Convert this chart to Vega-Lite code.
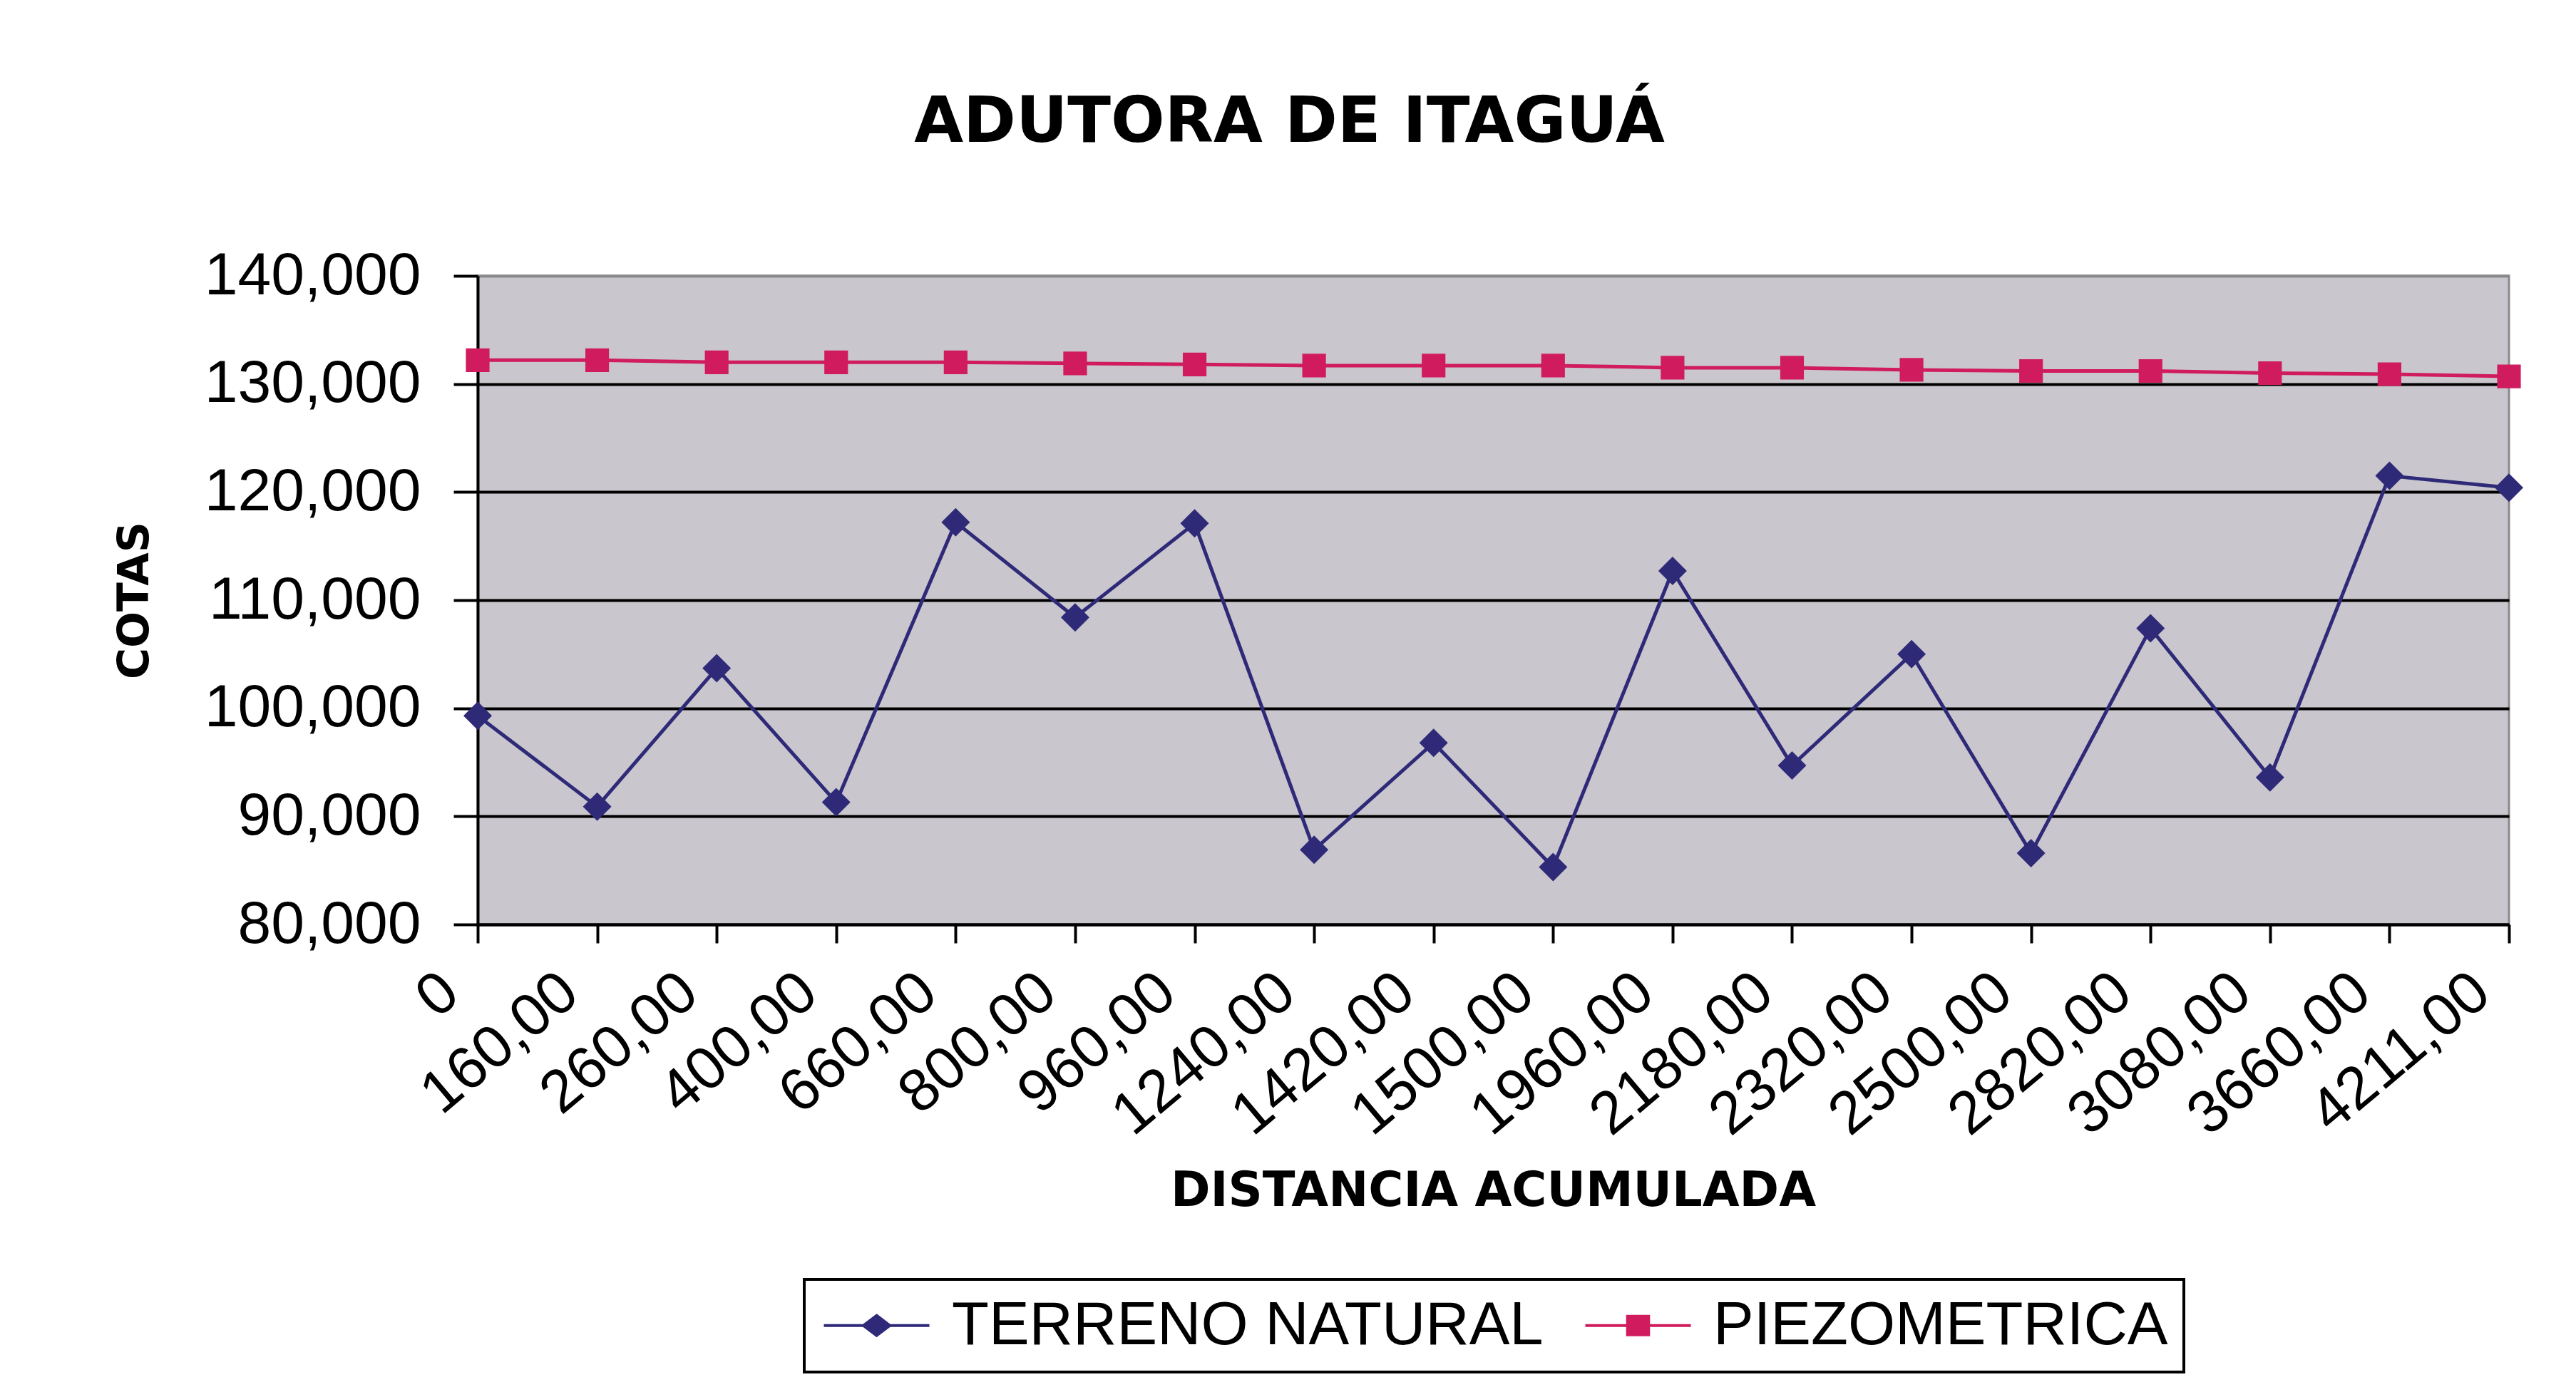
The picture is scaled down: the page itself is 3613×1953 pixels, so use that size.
{
  "$schema": "https://vega.github.io/schema/vega-lite/v6.json",
  "autosize": {"type": "none"},
  "width": 2849,
  "height": 910,
  "padding": {"left": 670, "top": 387, "right": 94, "bottom": 656},
  "background": "white",
  "config": {
    "view": {"fill": "#c9c6cd", "stroke": "#8a8a8a", "strokeWidth": 3},
    "font": "Liberation Sans"
  },
  "title": {
    "text": "ADUTORA DE ITAGUÁ",
    "font": "DejaVu Sans",
    "fontWeight": "bold",
    "fontSize": 89,
    "color": "black",
    "anchor": "middle",
    "frame": "group",
    "baseline": "alphabetic",
    "offset": 57,
    "dx": -286
  },
  "data": {
    "values": [
      {"distancia": "0", "serie": "TERRENO NATURAL", "cota": 99.3},
      {"distancia": "160,00", "serie": "TERRENO NATURAL", "cota": 90.9},
      {"distancia": "260,00", "serie": "TERRENO NATURAL", "cota": 103.7},
      {"distancia": "400,00", "serie": "TERRENO NATURAL", "cota": 91.3},
      {"distancia": "660,00", "serie": "TERRENO NATURAL", "cota": 117.2},
      {"distancia": "800,00", "serie": "TERRENO NATURAL", "cota": 108.4},
      {"distancia": "960,00", "serie": "TERRENO NATURAL", "cota": 117.1},
      {"distancia": "1240,00", "serie": "TERRENO NATURAL", "cota": 86.9},
      {"distancia": "1420,00", "serie": "TERRENO NATURAL", "cota": 96.8},
      {"distancia": "1500,00", "serie": "TERRENO NATURAL", "cota": 85.3},
      {"distancia": "1960,00", "serie": "TERRENO NATURAL", "cota": 112.7},
      {"distancia": "2180,00", "serie": "TERRENO NATURAL", "cota": 94.7},
      {"distancia": "2320,00", "serie": "TERRENO NATURAL", "cota": 105.0},
      {"distancia": "2500,00", "serie": "TERRENO NATURAL", "cota": 86.6},
      {"distancia": "2820,00", "serie": "TERRENO NATURAL", "cota": 107.4},
      {"distancia": "3080,00", "serie": "TERRENO NATURAL", "cota": 93.6},
      {"distancia": "3660,00", "serie": "TERRENO NATURAL", "cota": 121.5},
      {"distancia": "4211,00", "serie": "TERRENO NATURAL", "cota": 120.4},
      {"distancia": "0", "serie": "PIEZOMETRICA", "cota": 132.2},
      {"distancia": "160,00", "serie": "PIEZOMETRICA", "cota": 132.2},
      {"distancia": "260,00", "serie": "PIEZOMETRICA", "cota": 132.0},
      {"distancia": "400,00", "serie": "PIEZOMETRICA", "cota": 132.0},
      {"distancia": "660,00", "serie": "PIEZOMETRICA", "cota": 132.0},
      {"distancia": "800,00", "serie": "PIEZOMETRICA", "cota": 131.9},
      {"distancia": "960,00", "serie": "PIEZOMETRICA", "cota": 131.8},
      {"distancia": "1240,00", "serie": "PIEZOMETRICA", "cota": 131.7},
      {"distancia": "1420,00", "serie": "PIEZOMETRICA", "cota": 131.7},
      {"distancia": "1500,00", "serie": "PIEZOMETRICA", "cota": 131.7},
      {"distancia": "1960,00", "serie": "PIEZOMETRICA", "cota": 131.5},
      {"distancia": "2180,00", "serie": "PIEZOMETRICA", "cota": 131.5},
      {"distancia": "2320,00", "serie": "PIEZOMETRICA", "cota": 131.3},
      {"distancia": "2500,00", "serie": "PIEZOMETRICA", "cota": 131.2},
      {"distancia": "2820,00", "serie": "PIEZOMETRICA", "cota": 131.2},
      {"distancia": "3080,00", "serie": "PIEZOMETRICA", "cota": 131.0},
      {"distancia": "3660,00", "serie": "PIEZOMETRICA", "cota": 130.9},
      {"distancia": "4211,00", "serie": "PIEZOMETRICA", "cota": 130.7}
    ]
  },
  "encoding": {
    "x": {
      "field": "distancia",
      "type": "ordinal",
      "sort": ["0", "160,00", "260,00", "400,00", "660,00", "800,00", "960,00", "1240,00", "1420,00", "1500,00", "1960,00", "2180,00", "2320,00", "2500,00", "2820,00", "3080,00", "3660,00", "4211,00"],
      "scale": {"type": "point", "padding": 0},
      "axis": {
        "title": "DISTANCIA ACUMULADA",
        "titleFont": "DejaVu Sans",
        "titleFontWeight": "bold",
        "titleFontSize": 67,
        "titleColor": "black",
        "titleX": 1424,
        "titleY": 374,
        "titleAlign": "center",
        "titleBaseline": "middle",
        "labelAngle": -40,
        "labelAlign": "right",
        "labelBaseline": "middle",
        "labelFont": "Liberation Sans",
        "labelFontSize": 84,
        "labelColor": "black",
        "labelPadding": 58,
        "labelOffset": -38,
        "labelOverlap": false,
        "labelLimit": 1000,
        "tickSize": 26,
        "tickWidth": 4,
        "tickColor": "black",
        "domainColor": "black",
        "domainWidth": 4,
        "grid": false
      }
    },
    "y": {
      "field": "cota",
      "type": "quantitative",
      "scale": {"domain": [80, 140], "zero": false, "nice": false},
      "axis": {
        "title": "COTAS",
        "titleFont": "DejaVu Sans",
        "titleFontWeight": "bold",
        "titleFontSize": 60,
        "titleColor": "black",
        "titleAngle": 270,
        "titleX": -481,
        "titleY": 455,
        "titleAlign": "center",
        "titleBaseline": "middle",
        "values": [80, 90, 100, 110, 120, 130, 140],
        "labelExpr": "replace(format(datum.value, '.3f'), '.', ',')",
        "labelFont": "Liberation Sans",
        "labelFontSize": 84,
        "labelColor": "black",
        "labelPadding": 46,
        "labelLimit": 1000,
        "tickSize": 34,
        "tickWidth": 4,
        "tickColor": "black",
        "domainColor": "black",
        "domainWidth": 4,
        "grid": true,
        "gridColor": {"condition": {"test": "datum.value == 140", "value": "#8a8a8a"}, "value": "black"},
        "gridWidth": 4
      }
    },
    "color": {
      "field": "serie",
      "type": "nominal",
      "scale": {"domain": ["TERRENO NATURAL", "PIEZOMETRICA"], "range": ["#2e2a78", "#d01c5e"]},
      "legend": {
        "orient": "none",
        "legendX": 458,
        "legendY": 1408,
        "direction": "horizontal",
        "title": null,
        "labelFont": "Liberation Sans",
        "labelFontSize": 85,
        "labelColor": "black",
        "labelLimit": 2000,
        "labelOffset": 100,
        "columnPadding": 50,
        "padding": 22,
        "strokeColor": "black",
        "fillColor": "white",
        "symbolSize": 5476,
        "symbolStrokeWidth": 4,
        "encode": {
          "legend": {"update": {"strokeWidth": {"value": 4}}},
          "symbols": {
            "update": {
              "shape": {"signal": "datum.value === 'PIEZOMETRICA' ? 'M-1,0L3,0M0.6,-0.35L1.4,-0.35L1.4,0.35L0.6,0.35Z' : 'M-1,0L3,0M1,-0.38L1.5,0L1,0.38L0.5,0Z'"},
              "fill": {"scale": "color", "field": "value"},
              "stroke": {"scale": "color", "field": "value"},
              "strokeWidth": {"value": 4},
              "opacity": {"value": 1}
            }
          }
        }
      }
    }
  },
  "layer": [
    {"mark": {"type": "line", "strokeWidth": 5}},
    {
      "transform": [{"filter": "datum.serie === 'TERRENO NATURAL'"}],
      "mark": {"type": "point", "filled": true, "opacity": 1, "shape": "diamond", "size": 1600}
    },
    {
      "transform": [{"filter": "datum.serie === 'PIEZOMETRICA'"}],
      "mark": {"type": "point", "filled": true, "opacity": 1, "shape": "square", "size": 1100}
    }
  ]
}
